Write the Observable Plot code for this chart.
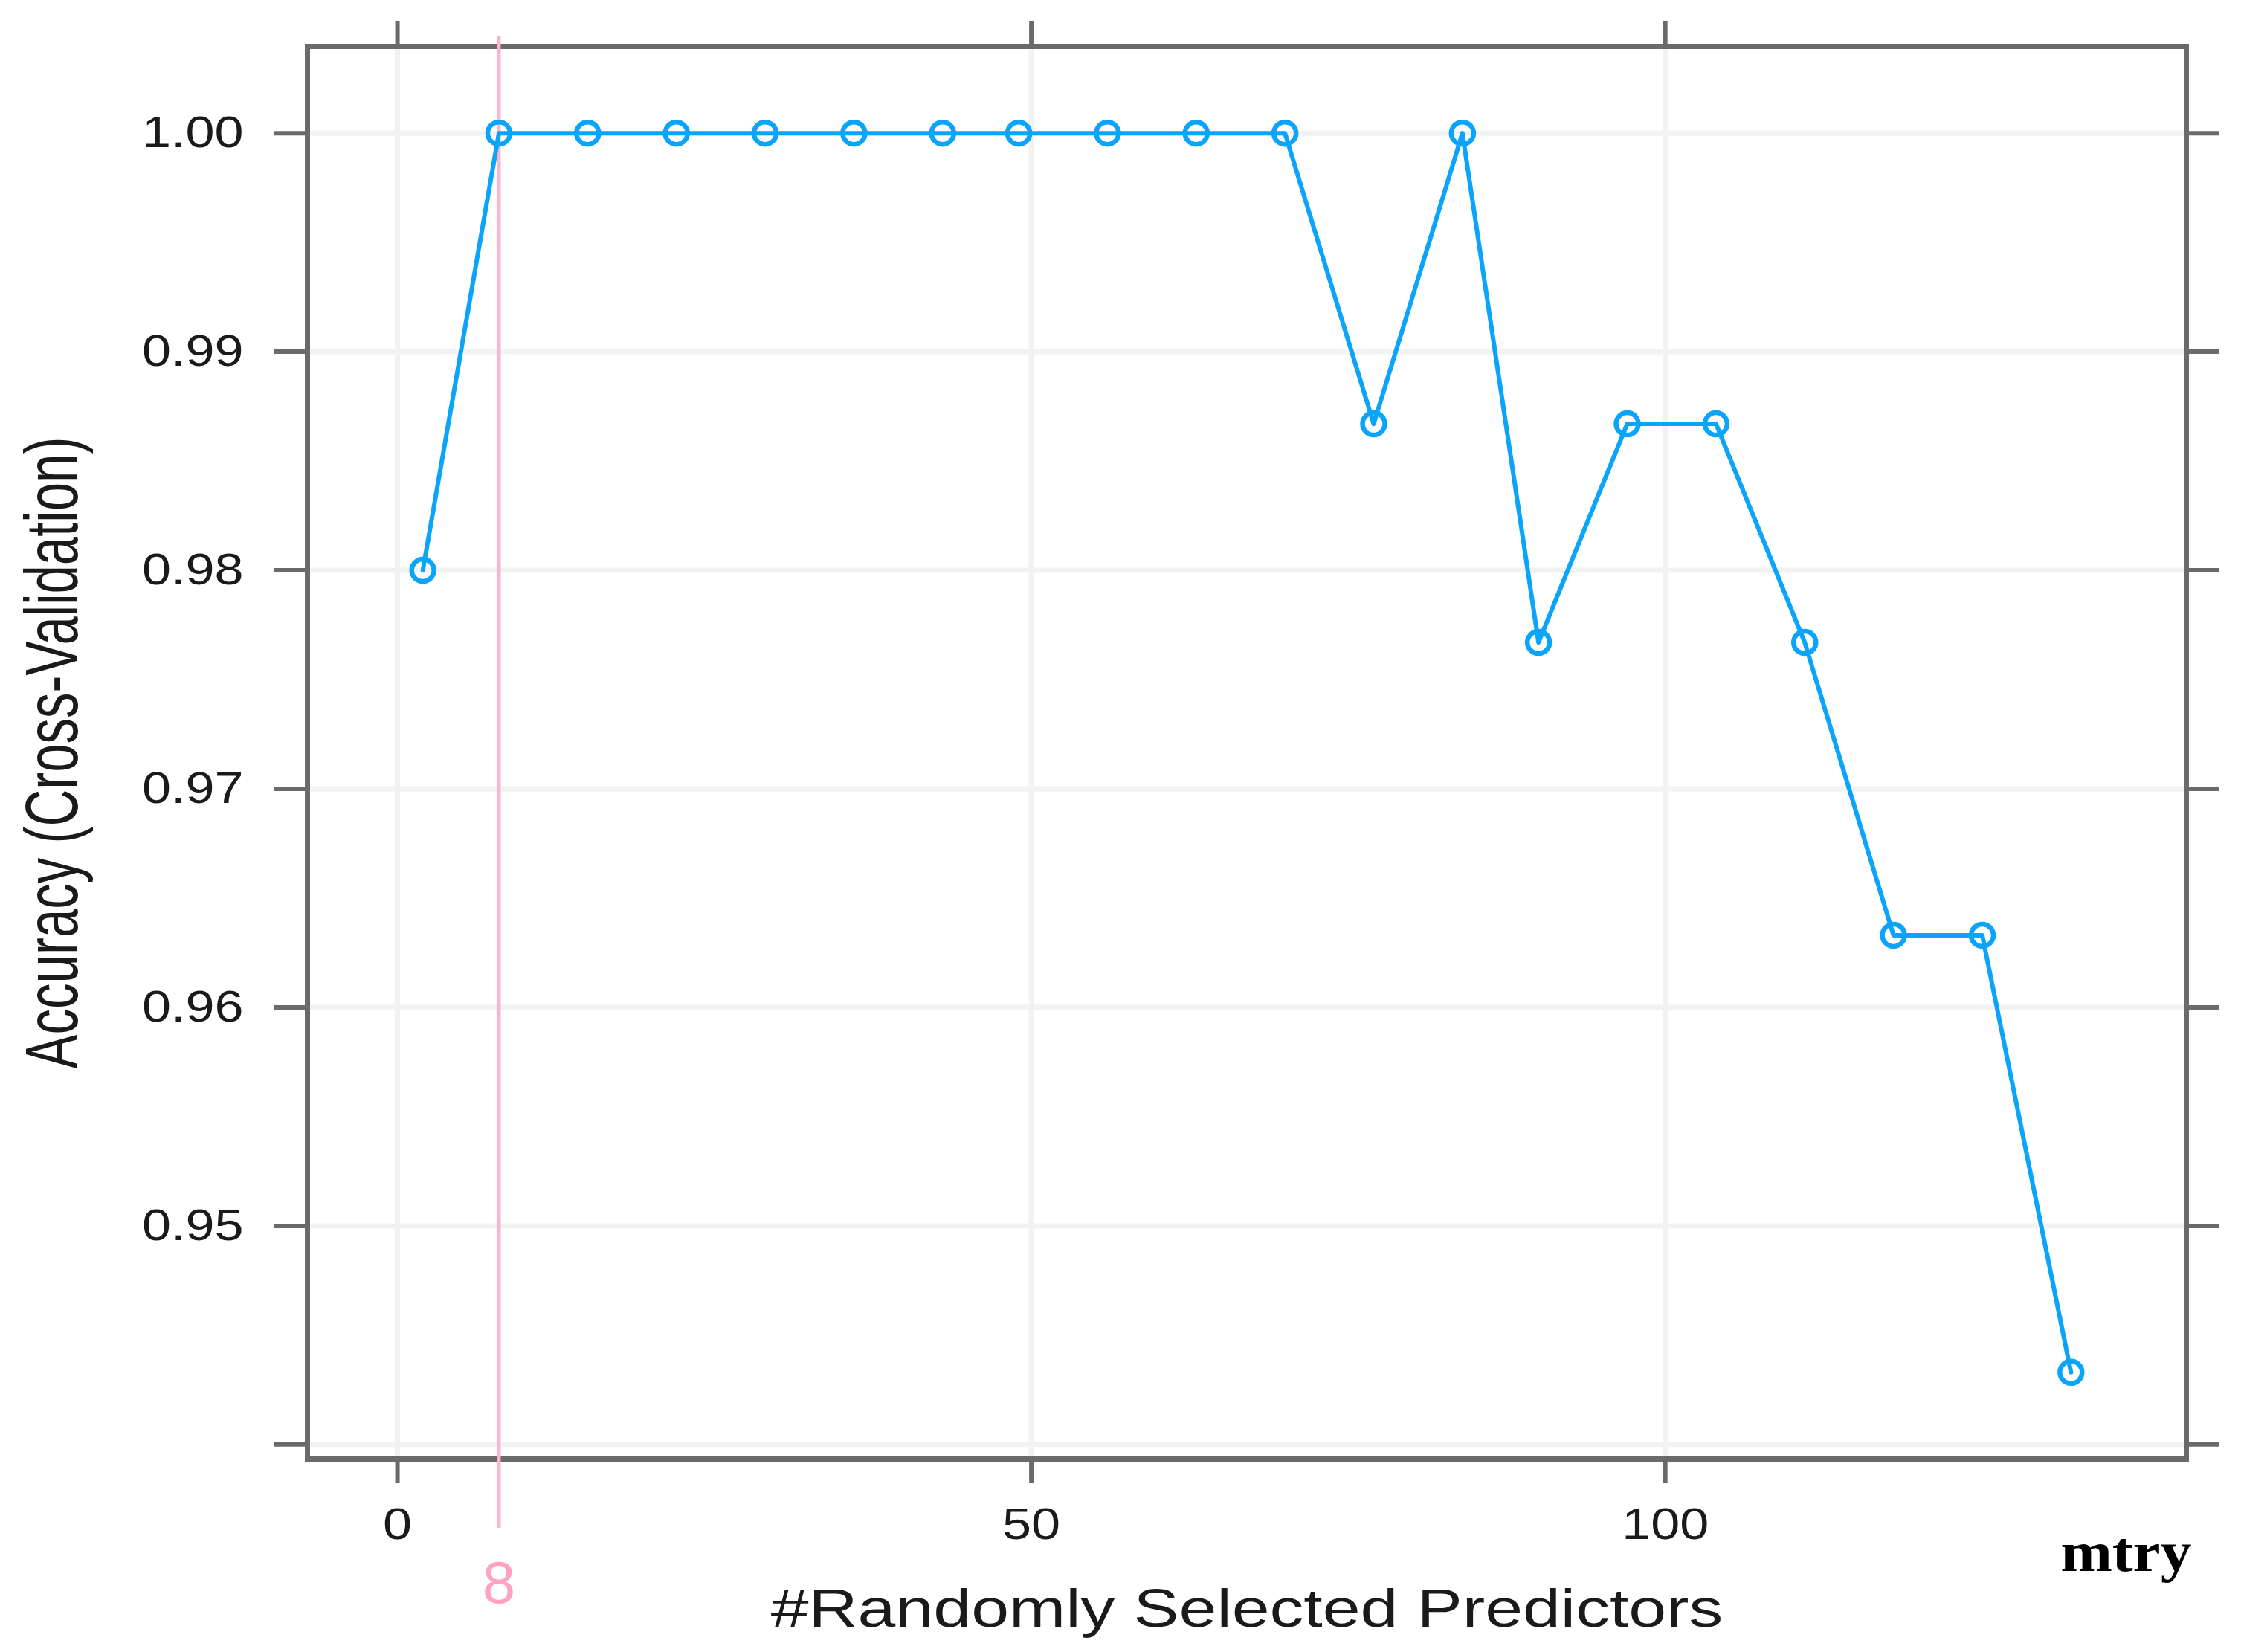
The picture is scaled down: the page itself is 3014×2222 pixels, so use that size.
<!DOCTYPE html>
<html>
<head>
<meta charset="utf-8">
<script src="https://cdn.jsdelivr.net/npm/d3@7"></script>
<script src="https://cdn.jsdelivr.net/npm/@observablehq/plot@0.6"></script>
<style>
  html, body { margin: 0; padding: 0; background: #ffffff; }
  #chart svg { display: block; }
</style>
</head>
<body>
<div id="chart"></div>
<script>
// ---- data ----
const mtry = [2, 8, 15, 22, 29, 36, 43, 49, 56, 63, 70, 77, 84, 90, 97, 104, 111, 118, 125, 132];
const accuracy = [0.98, 1, 1, 1, 1, 1, 1, 1, 1, 1, 1, 0.9867, 1, 0.9767, 0.9867, 0.9867, 0.9767, 0.9633, 0.9633, 0.9433];
const xTicks = [0, 50, 100];
const xTickLabels = ["0", "50", "100"];
const yTicks = [0.94, 0.95, 0.96, 0.97, 0.98, 0.99, 1.00];
const yTickLabels = ["", "0.95", "0.96", "0.97", "0.98", "0.99", "1.00"];
const bestMtry = [8];
const bestLabel = ["8"];
const xTitle = ["#Randomly Selected Predictors"];
const yTitle = ["Accuracy (Cross-Validation)"];
const paramName = ["mtry"];

const data = mtry.map((m, i) => ({mtry: m, acc: accuracy[i]}));

// lattice-style 7% padding of the data range
const pad = (ext) => { const r = ext[1] - ext[0]; return [ext[0] - 0.07 * r, ext[1] + 0.07 * r]; };
const xDomain = pad(d3.extent(mtry));
const yDomain = pad(d3.extent(accuracy));

const blue = "#0aa4fb";
const pink = "#ffb3c8";
const boxCol = "#6a6a6a";
const gridCol = "#f2f2f2";
const textCol = "#1a1a1a";

const chart = Plot.plot({
  width: 3014,
  height: 2222,
  marginLeft: 413,
  marginRight: 74,
  marginTop: 62,
  marginBottom: 260,
  style: {fontFamily: "'Liberation Sans', Arial, sans-serif", background: "#ffffff", color: textCol},
  x: {domain: xDomain},
  y: {domain: yDomain},
  marks: [
    Plot.gridX(xTicks, {stroke: gridCol, strokeWidth: 7, strokeOpacity: 1}),
    Plot.gridY(yTicks, {stroke: gridCol, strokeWidth: 7, strokeOpacity: 1}),
    Plot.frame({stroke: boxCol, strokeWidth: 7}),
    Plot.ruleX(bestMtry, {stroke: pink, strokeWidth: 5, insetTop: -14, insetBottom: -93}),
    Plot.line(data, {x: "mtry", y: "acc", stroke: blue, strokeWidth: 6}),
    Plot.dot(data, {x: "mtry", y: "acc", r: 15, stroke: blue, strokeWidth: 6.5, fill: "none"}),
    Plot.axisX(xTicks, {anchor: "bottom", tickSize: 33, tickPadding: 32, fontSize: 60, stroke: boxCol, strokeWidth: 6, fill: textCol,
      tickFormat: d => xTickLabels[xTicks.indexOf(d)], label: null}),
    Plot.axisX(xTicks, {anchor: "top", tickSize: 35, stroke: boxCol, strokeWidth: 6, tickFormat: () => "", label: null}),
    Plot.axisY(yTicks, {anchor: "left", tickSize: 44, tickPadding: 42, fontSize: 60, stroke: boxCol, strokeWidth: 6, fill: textCol,
      tickFormat: d => yTickLabels[yTicks.indexOf(d)], label: null}),
    Plot.axisY(yTicks, {anchor: "right", tickSize: 44, stroke: boxCol, strokeWidth: 6, tickFormat: () => "", label: null}),
    Plot.text(xTitle, {frameAnchor: "bottom", lineAnchor: "bottom", dy: 225, fontSize: 72, fill: textCol}),
    Plot.text(yTitle, {frameAnchor: "left", textAnchor: "middle", lineAnchor: "bottom", rotate: -90, dx: -310, fontSize: 69, fill: textCol}),
    Plot.text(bestLabel, {x: bestMtry, frameAnchor: "bottom", lineAnchor: "bottom", dy: 193, fontSize: 80, fill: "#ffa3c0"}),
    Plot.text(paramName, {frameAnchor: "bottom-right", textAnchor: "end", lineAnchor: "bottom", dy: 150, dx: 7,
      fontSize: 76, fontWeight: "bold", fontFamily: "'Liberation Serif', 'Times New Roman', serif", fill: "#000000"})
  ]
});

document.getElementById("chart").append(chart);

// The reference's lettering is horizontally stretched; widen glyphs about their anchors.
chart.querySelectorAll("text").forEach(t => {
  const txt = t.textContent;
  if (!txt) return;
  const cs = getComputedStyle(t);
  const fs = parseFloat(cs.fontSize);
  let s = fs >= 65 ? 1.27 : 1.17;
  if (txt === "mtry") s = 1.1;
  if (txt === "8") s = 1.0;
  if (txt === yTitle[0]) s = 1.45;
  const tr = t.getAttribute("transform") || "";
  if (tr.includes("rotate")) {
    t.setAttribute("transform", `${tr} scale(1,${s})`);
  } else {
    const b = t.getBBox();
    const a = cs.textAnchor;
    const px = a === "end" ? b.x + b.width : a === "middle" ? b.x + b.width / 2 : b.x;
    t.setAttribute("transform", `${tr} translate(${px},0) scale(${s},1) translate(${-px},0)`);
  }
});
</script>
</body>
</html>
